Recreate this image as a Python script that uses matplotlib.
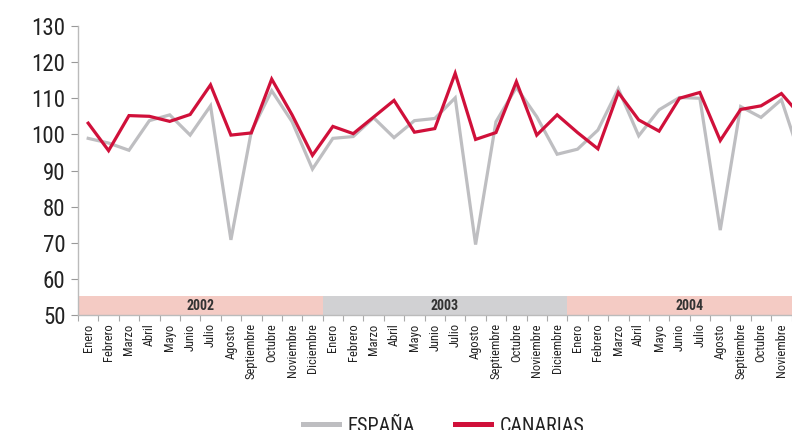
import matplotlib
matplotlib.use("Agg")
import matplotlib.pyplot as plt
from matplotlib.patches import Rectangle

plt.rcParams['font.family'] = ['Roboto Condensed', 'Archivo Narrow', 'DejaVu Sans']

meses = ['Enero', 'Febrero', 'Marzo', 'Abril', 'Mayo', 'Junio', 'Julio', 'Agosto',
         'Septiembre', 'Octubre', 'Noviembre', 'Diciembre']
years = ['2002', '2003', '2004']
year_colors = ['#F4CBC4', '#D1D1D3', '#F4CBC4']

espana = [98.9, 97.6, 95.6, 103.8, 105.4, 99.8, 107.9, 70.8, 100.8, 112.1, 103.5, 90.4,
          98.9, 99.4, 104.6, 99.1, 103.8, 104.4, 110.1, 69.5, 103.5, 113.0, 104.9, 94.5,
          95.9, 101.2, 112.6, 99.6, 106.8, 110.2, 110.0, 73.5, 107.7, 104.7, 109.6, 92.5]
canarias = [103.1, 95.5, 105.2, 105.0, 103.6, 105.5, 113.7, 99.8, 100.4, 115.3, 105.4, 94.2,
            102.2, 100.2, 104.8, 109.4, 100.6, 101.6, 116.9, 98.6, 100.5, 114.6, 99.8, 105.4,
            100.5, 96.0, 111.6, 104.0, 100.9, 110.0, 111.6, 98.3, 106.9, 107.9, 111.3, 104.8]

labels = meses * len(years)
n = len(labels)
xc = [i + 0.5 for i in range(n)]

fig = plt.figure(figsize=(7.92, 4.30), dpi=100)
ax = fig.add_axes([78 / 792, 115 / 430, 734 / 792, 289 / 430])

ax.plot(xc, espana, color='#BEBEC1', lw=2.3, label='ESPAÑA', zorder=3, solid_joinstyle='miter')
ax.plot(xc, canarias, color='#D0103A', lw=2.3, label='CANARIAS', zorder=4, solid_joinstyle='miter')

for k, (yr, c) in enumerate(zip(years, year_colors)):
    ax.add_patch(Rectangle((12 * k, 50), 12, 5.3, facecolor=c, edgecolor='none', zorder=1))
    ax.text(12 * k + 6, 52.6, yr, ha='center', va='center', fontsize=10,
            fontweight='bold', color='#333333', zorder=2)

ax.set_xlim(0, n)
ax.set_ylim(50, 130)
ax.set_yticks(range(50, 131, 10))
ax.tick_params(axis='y', labelsize=16.5, colors='#999999', labelcolor='#222222',
               length=5, width=0.8, pad=4)

ax.set_xticks(range(0, n + 1))
ax.set_xticklabels([])
ax.set_xticks(xc, minor=True)
ax.set_xticklabels(labels, minor=True, rotation=90, fontsize=9, color='#222222')
ax.tick_params(axis='x', which='major', length=4, width=0.8, colors='#AAAAAA')
ax.tick_params(axis='x', which='minor', length=0, pad=6)

for s in ['top', 'right']:
    ax.spines[s].set_visible(False)
for s in ['left', 'bottom']:
    ax.spines[s].set_color('#BBBBBB')
    ax.spines[s].set_linewidth(1.0)

leg = fig.legend(loc='center', bbox_to_anchor=(444 / 792, 1 - 426 / 430), ncol=2,
                 frameon=False, fontsize=14.5, handlelength=1.75, handletextpad=0.45,
                 columnspacing=2.0, borderpad=0)
for line in leg.get_lines():
    line.set_linewidth(3.6)
for t in leg.get_texts():
    t.set_color('#222222')

fig.savefig('out.png', dpi=100)
